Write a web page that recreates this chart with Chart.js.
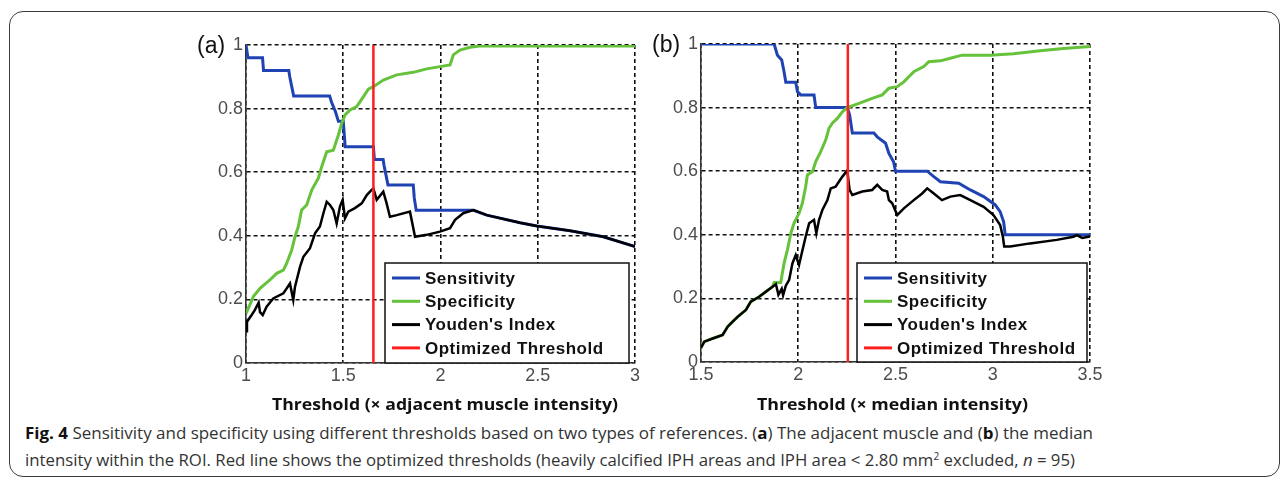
<!DOCTYPE html>
<html lang="en">
<head>
<meta charset="UTF-8">
<title>Fig. 4 Sensitivity and specificity</title>
<script src="https://cdn.jsdelivr.net/npm/chart.js"></script>
<style>
    html, body { margin: 0; padding: 0; background: #fff; }
    body { width: 1287px; height: 486px; position: relative; overflow: hidden; font-family: 'Open Sans', sans-serif; }
    .frame {
        position: absolute; left: 9px; top: 11px; width: 1271px; height: 466px;
        border: 1.3px solid #3c3c3c; border-radius: 14px; box-sizing: border-box;
    }
    canvas { position: absolute; }
    .panel { position: absolute; font: 23px 'Liberation Sans', Arial, sans-serif; color: #111; line-height: 1; }
    .fit { position: absolute; white-space: nowrap; transform-origin: 0 50%; line-height: 1; }
    .xtitle { font-weight: 700; font-size: 16.5px; color: #111; }
    .caption { font-size: 16.5px; color: #333; }
    .caption b { color: #111; }
</style>
</head>
<body>
<div class="frame"></div>

<canvas id="chartA" width="480" height="370" style="left:170px; top:25px;"></canvas>
<canvas id="chartB" width="480" height="370" style="left:625px; top:24px;"></canvas>

<div class="panel" style="left:197px; top:34px;">(a)</div>
<div class="panel" style="left:652px; top:33px;">(b)</div>

<div class="fit xtitle" data-w="346" style="left:272px; top:396px;">Threshold (× adjacent muscle intensity)</div>
<div class="fit xtitle" data-w="271" style="left:757px; top:396px;">Threshold (× median intensity)</div>

<div class="fit caption" data-w="1068" style="left:25px; top:425px;"><b>Fig. 4</b> Sensitivity and specificity using different thresholds based on two types of references. (<b>a</b>) The adjacent muscle and (<b>b</b>) the median</div>
<div class="fit caption" data-w="1050" style="left:25px; top:452px;">intensity within the ROI. Red line shows the optimized thresholds (heavily calcified IPH areas and IPH area &lt; 2.80 mm<sup style="font-size:10px; line-height:0;">2</sup> excluded, <i>n</i> = 95)</div>

<script>
    // legend / series
    const seriesLabels = ['Sensitivity', 'Specificity', "Youden's Index", 'Optimized Threshold'];
    const seriesColors = ['#1f43b3', '#66c23a', '#000000', '#ff1f1f'];
    const yTicks = [0, 0.2, 0.4, 0.6, 0.8, 1];

    // (a) threshold x adjacent muscle intensity
    const aTicksX = [1, 1.5, 2, 2.5, 3];
    const aThreshold = 1.655;
    const aSensX = [1.0, 1.005, 1.01, 1.085, 1.09, 1.22, 1.225, 1.235, 1.245, 1.43, 1.44, 1.46, 1.475, 1.50, 1.51, 1.655, 1.66, 1.705, 1.71, 1.72, 1.73, 1.86, 1.865, 1.875, 2.17, 2.238, 2.409, 2.495, 2.666, 2.837, 3.0];
    const aSensY = [1.0, 1.0, 0.96, 0.96, 0.92, 0.92, 0.90, 0.87, 0.84, 0.84, 0.82, 0.79, 0.76, 0.76, 0.68, 0.68, 0.64, 0.64, 0.62, 0.59, 0.56, 0.56, 0.52, 0.48, 0.48, 0.465, 0.441, 0.431, 0.416, 0.397, 0.366];
    const aSpecX = [1.0, 1.038, 1.072, 1.123, 1.158, 1.192, 1.209, 1.235, 1.252, 1.269, 1.286, 1.312, 1.338, 1.372, 1.389, 1.415, 1.449, 1.475, 1.492, 1.509, 1.535, 1.569, 1.603, 1.629, 1.655, 1.706, 1.775, 1.86, 1.929, 1.997, 2.049, 2.066, 2.1, 2.152, 2.2, 3.0];
    const aSpecY = [0.155, 0.209, 0.235, 0.261, 0.282, 0.292, 0.313, 0.355, 0.397, 0.429, 0.481, 0.497, 0.544, 0.581, 0.617, 0.664, 0.669, 0.717, 0.754, 0.780, 0.796, 0.806, 0.837, 0.861, 0.869, 0.890, 0.906, 0.914, 0.925, 0.932, 0.937, 0.969, 0.984, 0.993, 0.997, 0.997];
    const aYoudX = [1.0, 1.005, 1.029, 1.046, 1.065, 1.072, 1.086, 1.106, 1.14, 1.192, 1.226, 1.243, 1.252, 1.278, 1.295, 1.329, 1.355, 1.38, 1.398, 1.415, 1.432, 1.449, 1.466, 1.483, 1.497, 1.509, 1.526, 1.56, 1.595, 1.621, 1.646, 1.655, 1.672, 1.706, 1.723, 1.74, 1.775, 1.843, 1.869, 1.929, 1.997, 2.049, 2.075, 2.117, 2.169, 2.238, 2.409, 2.495, 2.666, 2.837, 3.0];
    const aYoudY = [0.10, 0.13, 0.151, 0.167, 0.19, 0.16, 0.151, 0.177, 0.203, 0.219, 0.25, 0.198, 0.24, 0.303, 0.334, 0.361, 0.408, 0.429, 0.471, 0.507, 0.497, 0.481, 0.439, 0.492, 0.513, 0.455, 0.476, 0.487, 0.502, 0.528, 0.544, 0.549, 0.513, 0.539, 0.502, 0.46, 0.465, 0.476, 0.397, 0.403, 0.413, 0.424, 0.45, 0.471, 0.481, 0.465, 0.441, 0.431, 0.416, 0.397, 0.366];

    // (b) threshold x median intensity
    const bTicksX = [1.5, 2, 2.5, 3, 3.5];
    const bThreshold = 2.255;
    const bSensX = [1.5, 1.876, 1.893, 1.915, 1.927, 1.936, 1.987, 1.996, 2.013, 2.081, 2.09, 2.252, 2.264, 2.278, 2.389, 2.406, 2.449, 2.466, 2.49, 2.5, 2.663, 2.697, 2.731, 2.825, 2.885, 2.953, 3.013, 3.038, 3.056, 3.064, 3.5];
    const bSensY = [1.0, 1.0, 0.965, 0.95, 0.913, 0.88, 0.88, 0.85, 0.84, 0.84, 0.80, 0.80, 0.777, 0.72, 0.72, 0.708, 0.688, 0.656, 0.63, 0.60, 0.60, 0.583, 0.567, 0.562, 0.541, 0.52, 0.494, 0.473, 0.441, 0.40, 0.40];
    const bSpecX = [1.5, 1.517, 1.56, 1.611, 1.637, 1.663, 1.688, 1.731, 1.756, 1.799, 1.833, 1.868, 1.876, 1.91, 1.927, 1.944, 1.962, 1.978, 2.004, 2.021, 2.038, 2.047, 2.073, 2.09, 2.115, 2.141, 2.158, 2.175, 2.201, 2.227, 2.252, 2.312, 2.38, 2.432, 2.466, 2.509, 2.543, 2.594, 2.645, 2.671, 2.731, 2.782, 2.842, 2.987, 3.107, 3.244, 3.363, 3.5];
    const bSpecY = [0.045, 0.064, 0.074, 0.085, 0.111, 0.127, 0.142, 0.164, 0.19, 0.205, 0.221, 0.237, 0.25, 0.25, 0.31, 0.352, 0.405, 0.436, 0.468, 0.499, 0.551, 0.588, 0.598, 0.63, 0.661, 0.698, 0.735, 0.751, 0.766, 0.787, 0.80, 0.813, 0.829, 0.84, 0.861, 0.866, 0.881, 0.913, 0.929, 0.944, 0.947, 0.955, 0.965, 0.965, 0.969, 0.979, 0.986, 0.992];
    const bYoudX = [1.5, 1.517, 1.56, 1.611, 1.637, 1.663, 1.688, 1.731, 1.756, 1.799, 1.833, 1.868, 1.885, 1.898, 1.915, 1.922, 1.936, 1.953, 1.97, 1.987, 2.004, 2.018, 2.038, 2.056, 2.081, 2.093, 2.107, 2.124, 2.15, 2.167, 2.192, 2.209, 2.227, 2.252, 2.264, 2.278, 2.329, 2.38, 2.406, 2.432, 2.457, 2.466, 2.483, 2.509, 2.543, 2.594, 2.637, 2.663, 2.697, 2.739, 2.782, 2.833, 2.885, 2.953, 3.004, 3.038, 3.052, 3.059, 3.09, 3.192, 3.329, 3.415, 3.432, 3.46, 3.5];
    const bYoudY = [0.045, 0.064, 0.074, 0.085, 0.111, 0.127, 0.142, 0.164, 0.19, 0.205, 0.221, 0.237, 0.245, 0.211, 0.23, 0.21, 0.24, 0.258, 0.31, 0.336, 0.305, 0.342, 0.394, 0.436, 0.447, 0.405, 0.447, 0.478, 0.509, 0.546, 0.551, 0.567, 0.583, 0.602, 0.541, 0.525, 0.536, 0.541, 0.557, 0.541, 0.536, 0.509, 0.499, 0.462, 0.483, 0.509, 0.53, 0.546, 0.53, 0.509, 0.52, 0.525, 0.509, 0.488, 0.462, 0.431, 0.394, 0.363, 0.363, 0.373, 0.384, 0.394, 0.399, 0.39, 0.395];

    const tickFont = { family: "'Liberation Sans', Arial, sans-serif", size: 18 };

    function pts(xs, ys) {
        return xs.map((x, i) => ({ x: x, y: ys[i] }));
    }

    // legend drawn as a boxed panel inside the plot, bottom right
    const boxLegend = {
        id: 'boxLegend',
        afterDraw(chart, args, opts) {
            const { ctx, chartArea: a } = chart;
            const x0 = a.right - opts.right - opts.width;
            const y0 = a.bottom - opts.height;
            ctx.save();
            ctx.fillStyle = '#fff';
            ctx.fillRect(x0, y0, opts.width, opts.height);
            ctx.strokeStyle = '#111';
            ctx.lineWidth = 1.5;
            ctx.strokeRect(x0, y0, opts.width, opts.height);
            ctx.font = "bold 17px 'Liberation Sans', Arial, sans-serif";
            ctx.letterSpacing = '0.5px';
            ctx.textBaseline = 'middle';
            chart.data.datasets.forEach((ds, i) => {
                const y = y0 + 15 + i * 23.3;
                ctx.strokeStyle = ds.borderColor;
                ctx.lineWidth = 3;
                ctx.beginPath();
                ctx.moveTo(x0 + 7, y);
                ctx.lineTo(x0 + 35, y);
                ctx.stroke();
                ctx.fillStyle = '#111';
                ctx.fillText(ds.label, x0 + 40, y + 1);
            });
            ctx.restore();
        }
    };

    function axisOpts(ticks, isX) {
        return {
            type: 'linear',
            min: ticks[0],
            max: ticks[ticks.length - 1],
            afterBuildTicks: s => { s.ticks = ticks.map(v => ({ value: v })); },
            afterFit: s => {
                if (isX) { s.height = 32; s.paddingLeft = 0; s.paddingRight = 0; }
                else { s.width = 76; s.paddingTop = 0; s.paddingBottom = 0; }
            },
            grid: { color: '#111', lineWidth: 1.6, drawTicks: false },
            border: { display: true, color: '#333', width: 1.6, dash: [4, 3] },
            ticks: {
                color: '#4d4d4d', font: tickFont, padding: isX ? 2 : 3,
                maxRotation: 0, autoSkip: false, callback: v => String(v)
            }
        };
    }

    function makePanel(id, xTicks, sens, spec, youd, thr, legendBox) {
        new Chart(document.getElementById(id), {
            type: 'line',
            data: {
                datasets: [
                    { label: seriesLabels[0], data: sens, borderColor: seriesColors[0], borderWidth: 3, order: 3 },
                    { label: seriesLabels[1], data: spec, borderColor: seriesColors[1], borderWidth: 3, order: 2 },
                    { label: seriesLabels[2], data: youd, borderColor: seriesColors[2], borderWidth: 2.5, order: 1 },
                    { label: seriesLabels[3], data: [{ x: thr, y: 0 }, { x: thr, y: 1 }], borderColor: seriesColors[3], borderWidth: 2.5, order: 0 }
                ]
            },
            options: {
                responsive: false,
                animation: false,
                devicePixelRatio: 1,
                layout: { padding: { top: 20, right: 15, left: 0, bottom: 0 } },
                elements: { point: { radius: 0 }, line: { tension: 0, fill: false } },
                plugins: { legend: { display: false }, tooltip: { enabled: false }, boxLegend: legendBox },
                scales: { x: axisOpts(xTicks, true), y: axisOpts(yTicks, false) }
            },
            plugins: [boxLegend]
        });
    }

    makePanel('chartA', aTicksX, pts(aSensX, aSensY), pts(aSpecX, aSpecY), pts(aYoudX, aYoudY), aThreshold,
        { right: 6, width: 244, height: 100 });
    makePanel('chartB', bTicksX, pts(bSensX, bSensY), pts(bSpecX, bSpecY), pts(bYoudX, bYoudY), bThreshold,
        { right: 3, width: 230, height: 99 });

    // squeeze the html texts to the widths they take in the figure
    document.querySelectorAll('.fit').forEach(el => {
        const w = +el.dataset.w;
        const actual = el.getBoundingClientRect().width;
        if (actual > 0) el.style.transform = 'scaleX(' + (w / actual) + ')';
    });
</script>
</body>
</html>
